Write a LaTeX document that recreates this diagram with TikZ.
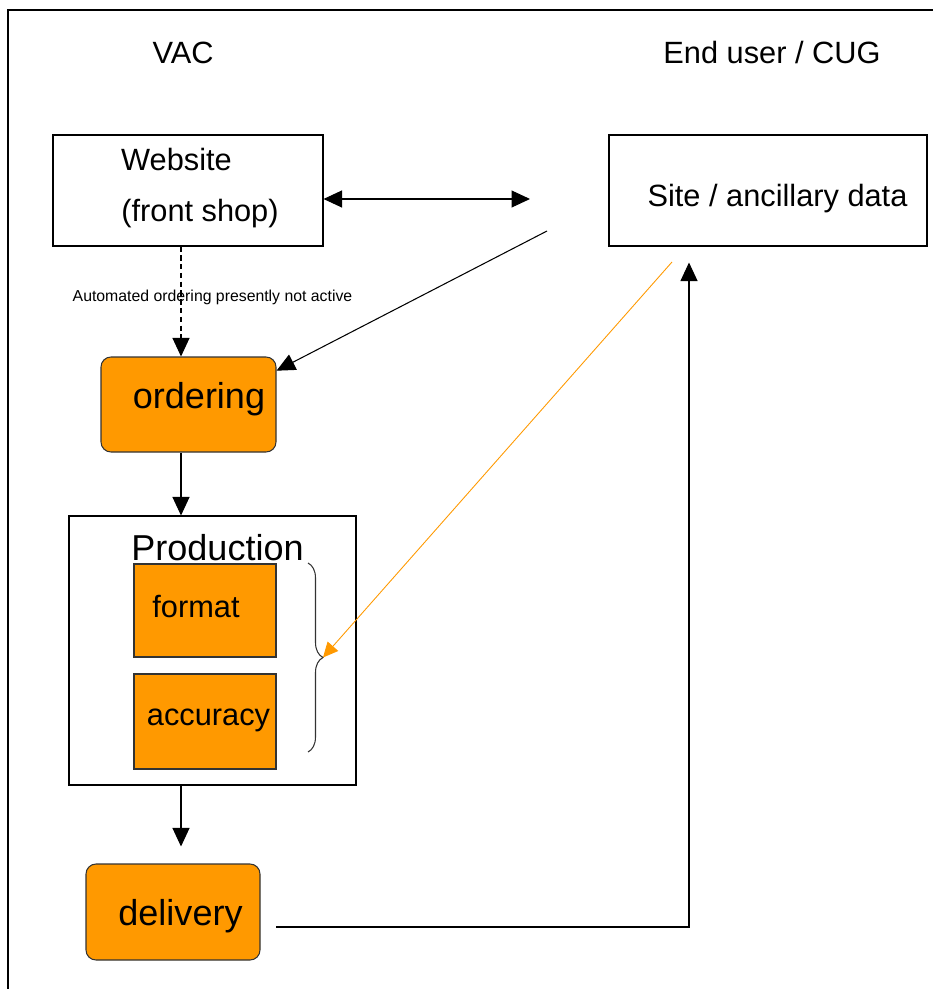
\documentclass[tikz,border=0pt]{standalone}
\usepackage{fontspec}
\setmainfont{Liberation Sans}
\usetikzlibrary{arrows.meta,decorations.pathreplacing}
\definecolor{vacorange}{RGB}{255,153,0}

\begin{document}
\begin{tikzpicture}[
        box/.style={draw, line width=0.6pt, inner sep=0pt},
        task/.style={box, fill=vacorange, draw=black!80},
        stage/.style={task, rounded corners=0.2cm},
        lbl/.style={inner sep=0pt, font=\fontsize{17.5}{20}\selectfont},
        biglbl/.style={inner sep=0pt, font=\fontsize{20.5}{24}\selectfont},
        note/.style={inner sep=0pt, font=\fontsize{9}{11}\selectfont},
        tip/.style={-{Triangle[length=0.37cm,width=0.34cm]}, line width=0.6pt}]
    \useasboundingbox (0,0) rectangle (18.66,-19.78);
    \draw[line width=1.2pt] (0.16,-19.78) -- (0.16,-0.2) -- (18.66,-0.2);

    \node[lbl] (vac) at (3.66,-1.06) {VAC};
    \node[lbl] (cug) at (15.44,-1.06) {End user / CUG};

    \node[box, minimum width=5.4cm, minimum height=2.22cm] (web) at (3.76,-3.81) {};
    \node[lbl] (webtxt) at (3.53,-3.2) {Website};
    \node[lbl] (shoptxt) at (4.0,-4.27) {(front shop)};
    \node[box, minimum width=6.36cm, minimum height=2.22cm] (site) at (15.36,-3.81) {};
    \node[lbl] (sitetxt) at (15.55,-3.98) {Site / ancillary data};

    \node[stage, minimum width=3.5cm, minimum height=1.9cm] (order) at (3.77,-8.09) {};
    \node[biglbl] (ordertxt) at (3.98,-7.98) {ordering};

    \node[box, minimum width=5.74cm, minimum height=5.38cm] (prod) at (4.25,-13.01) {};
    \node[biglbl] (prodtxt) at (4.35,-10.95) {Production};
    \node[task, minimum width=2.84cm, minimum height=1.86cm] (fmt) at (4.10,-12.21) {};
    \node[lbl] (fmttxt) at (3.92,-12.14) {format};
    \node[task, minimum width=2.84cm, minimum height=1.9cm] (acc) at (4.10,-14.43) {};
    \node[lbl] (acctxt) at (4.17,-14.4) {accuracy};

    \node[stage, minimum width=3.48cm, minimum height=1.92cm] (deliv) at (3.46,-18.24) {};
    \node[biglbl] (delivtxt) at (3.61,-18.32) {delivery};

    \coordinate (ax) at (3.62,0);
    \coordinate (rx) at (13.78,0);
    \coordinate (dbl) at (10.6,-3.98);
    \coordinate (fromsite) at (10.94,-4.62);
    \coordinate (osrc) at (13.44,-5.24);
    \coordinate (ret) at (5.52,-18.54);
    \coordinate (btip) at (6.46,-13.15);

    \draw[tip, {Triangle[length=0.37cm,width=0.34cm]}-{Triangle[length=0.37cm,width=0.34cm]}] (web.east |- dbl) -- (dbl);
    \draw[tip] (fromsite) -- (order.21);
    \draw[tip, dash pattern=on 3pt off 2pt] (web.south -| ax) -- node[note, pos=0.46, xshift=0.63cm] (auto) {Automated ordering presently not active} (order.north -| ax);
    \draw[tip] (order.south -| ax) -- (prod.north -| ax);
    \draw[tip, shorten >=0.34cm] (prod.south -| ax) -- (deliv.north -| ax);
    \draw[tip, shorten >=0.32cm] (ret) -| (site.south -| rx);

    \draw[decorate, decoration={brace, amplitude=0.3cm}, line width=0.6pt, black!80] (6.16,-11.26) -- (6.16,-15.04);
    \draw[-{Triangle[length=0.3cm,width=0.28cm]}, vacorange, line width=0.5pt] (osrc) -- (btip);
\end{tikzpicture}
\end{document}
